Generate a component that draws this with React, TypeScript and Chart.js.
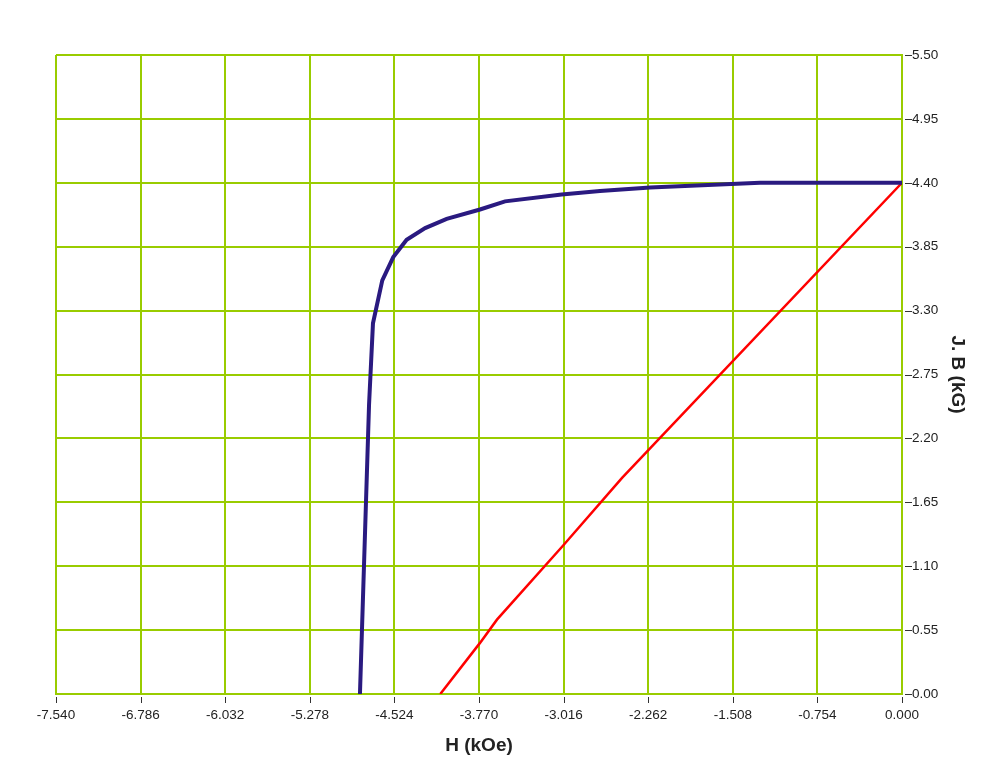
import React, { useEffect, useRef } from "react";
import { Chart, registerables } from "chart.js";

Chart.register(...registerables);

// H (kOe) / J (kG) demagnetization curve
const jCurveH = [-4.831, -4.75, -4.715, -4.632, -4.534, -4.415, -4.25, -4.058, -3.761, -3.538, -3.033, -2.692, -2.245, -1.265, 0];
const jCurveJ = [0, 2.49, 3.19, 3.56, 3.76, 3.91, 4.01, 4.09, 4.17, 4.24, 4.30, 4.33, 4.36, 4.40, 4.40];

// H (kOe) / B (kG) curve
const bCurveH = [-4.115, -3.761, -3.61, -3.018, -2.495, 0];
const bCurveB = [0, 0.44, 0.64, 1.28, 1.86, 4.40];

const xTicks = [-7.54, -6.786, -6.032, -5.278, -4.524, -3.77, -3.016, -2.262, -1.508, -0.754, 0];
const yTicks = [0, 0.55, 1.1, 1.65, 2.2, 2.75, 3.3, 3.85, 4.4, 4.95, 5.5];

const GRID = "#99cc00";
const FONT = "'Liberation Sans', Arial, sans-serif";

const tickMarks = {
  id: "tickMarks",
  afterDraw(chart: any) {
    const { ctx, scales } = chart;
    const x = scales.x;
    const y = scales.y;
    ctx.save();
    ctx.strokeStyle = "#333";
    ctx.lineWidth = 1;
    x.ticks.forEach((_t: any, i: number) => {
      const px = Math.round(x.getPixelForTick(i)) + 0.5;
      ctx.beginPath();
      ctx.moveTo(px, x.top + 3);
      ctx.lineTo(px, x.top + 9);
      ctx.stroke();
    });
    y.ticks.forEach((_t: any, i: number) => {
      const py = Math.round(y.getPixelForTick(i)) + 0.5;
      ctx.beginPath();
      ctx.moveTo(y.left + 3, py);
      ctx.lineTo(y.left + 10, py);
      ctx.stroke();
    });
    ctx.restore();
  },
};

export default function App() {
  const ref = useRef<HTMLCanvasElement>(null);
  useEffect(() => {
    if (!ref.current) return;
    const chart = new Chart(ref.current, {
      type: "line",
      data: {
        datasets: [
          {
            label: "J",
            data: jCurveH.map((h, i) => ({ x: h, y: jCurveJ[i] })),
            borderColor: "#2a1a80",
            borderWidth: 4,
            pointRadius: 0,
            fill: false,
            tension: 0,
          },
          {
            label: "B",
            data: bCurveH.map((h, i) => ({ x: h, y: bCurveB[i] })),
            borderColor: "#ff0000",
            borderWidth: 2.5,
            pointRadius: 0,
            fill: false,
            tension: 0,
          },
        ],
      },
      options: {
        animation: false,
        responsive: false,
        maintainAspectRatio: false,
        layout: { padding: { left: 56, top: 55, right: 0, bottom: 0 } },
        plugins: { legend: { display: false }, tooltip: { enabled: false } },
        scales: {
          x: {
            type: "linear",
            position: "bottom",
            min: -7.54,
            max: 0,
            afterBuildTicks: (s: any) => {
              s.ticks = xTicks.map((v) => ({ value: v }));
            },
            afterFit: (s: any) => {
              s.height = 80;
            },
            ticks: {
              autoSkip: false,
              maxRotation: 0,
              padding: 13,
              color: "#222",
              font: { family: FONT, size: 13.5 },
              callback: (v: any) => Number(v).toFixed(3),
            },
            grid: { color: GRID, lineWidth: 2, drawTicks: false },
            border: { color: GRID, width: 2 },
            title: {
              display: true,
              text: "H (kOe)",
              color: "#222",
              font: { family: FONT, size: 19, weight: "bold" },
              padding: { top: 0, bottom: 17 },
            },
          },
          y: {
            type: "linear",
            position: "right",
            min: 0,
            max: 5.5,
            afterBuildTicks: (s: any) => {
              s.ticks = yTicks.map((v) => ({ value: v }));
            },
            afterFit: (s: any) => {
              s.width = 98;
            },
            ticks: {
              autoSkip: false,
              padding: 10,
              color: "#222",
              font: { family: FONT, size: 13.5 },
              callback: (v: any) => Number(v).toFixed(2),
            },
            grid: { color: GRID, lineWidth: 2, drawTicks: false },
            border: { color: GRID, width: 2 },
            title: {
              display: true,
              text: "J. B (kG)",
              color: "#222",
              font: { family: FONT, size: 19, weight: "bold" },
              padding: { top: 31, bottom: 0 },
            },
          },
        },
      },
      plugins: [tickMarks],
    });
    return () => chart.destroy();
  }, []);

  return (
    <div style={{ position: "absolute", left: 0, top: 0, width: 1000, height: 774, background: "#fff" }}>
      <canvas ref={ref} width={1000} height={774} style={{ display: "block", width: 1000, height: 774 }} />
    </div>
  );
}
